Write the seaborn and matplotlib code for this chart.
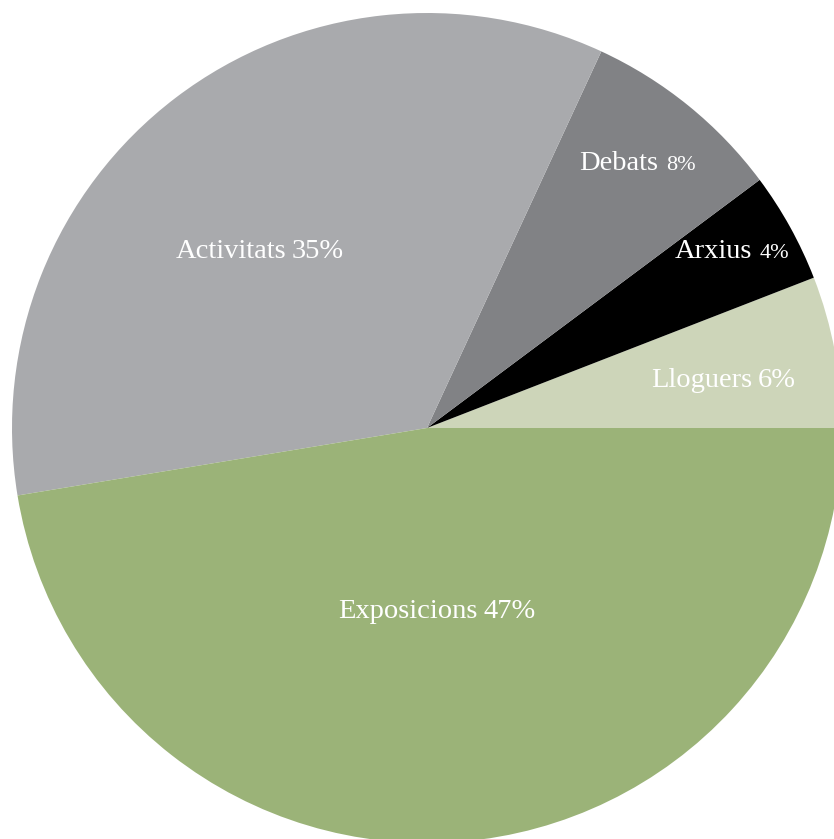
import matplotlib
matplotlib.use("Agg")
import matplotlib.pyplot as plt
import seaborn as sns

sns.set_theme(style="white")
plt.rcParams['font.family'] = ['Liberation Serif', 'DejaVu Serif']

# Data (counter-clockwise from 3 o'clock)
categories = ["Lloguers", "Arxius", "Debats", "Activitats", "Exposicions"]
wedge_share = [5.9, 4.3, 7.9, 34.5, 47.4]
label_pct = ["6%", "4%", "8%", "35%", "47%"]
colors = ["#CDD5B9", "#000000", "#818285", "#A9AAAD", "#9BB378"]

W, H = 834, 839
fig = plt.figure(figsize=(W / 100, H / 100), dpi=100)
ax = fig.add_axes([0, 0, 1, 1])

cx, cy, r = 427, H - 428, 415
ax.pie(wedge_share, colors=colors, startangle=0, counterclock=True,
       center=(cx, cy), radius=r, wedgeprops=dict(linewidth=0))
ax.set_xlim(0, W)
ax.set_ylim(0, H)
ax.set_aspect('equal', adjustable='box')
ax.axis('off')

# label layout: (name-end x, baseline y in px, small percent?)
layout = {
    "Lloguers":    (752, 387, False),
    "Arxius":      (752, 258, True),
    "Debats":      (658, 170, True),
    "Activitats":  (286, 258, False),
    "Exposicions": (478, 618, False),
}
for cat, pct in zip(categories, label_pct):
    x, y, small = layout[cat]
    ax.text(x, H - y, cat, ha='right', va='baseline', color='white', fontsize=20.5)
    ax.text(x + (8 if small else 6), H - y, pct, ha='left', va='baseline',
            color='white', fontsize=16 if small else 20.5)

fig.savefig("out.png", dpi=100)
